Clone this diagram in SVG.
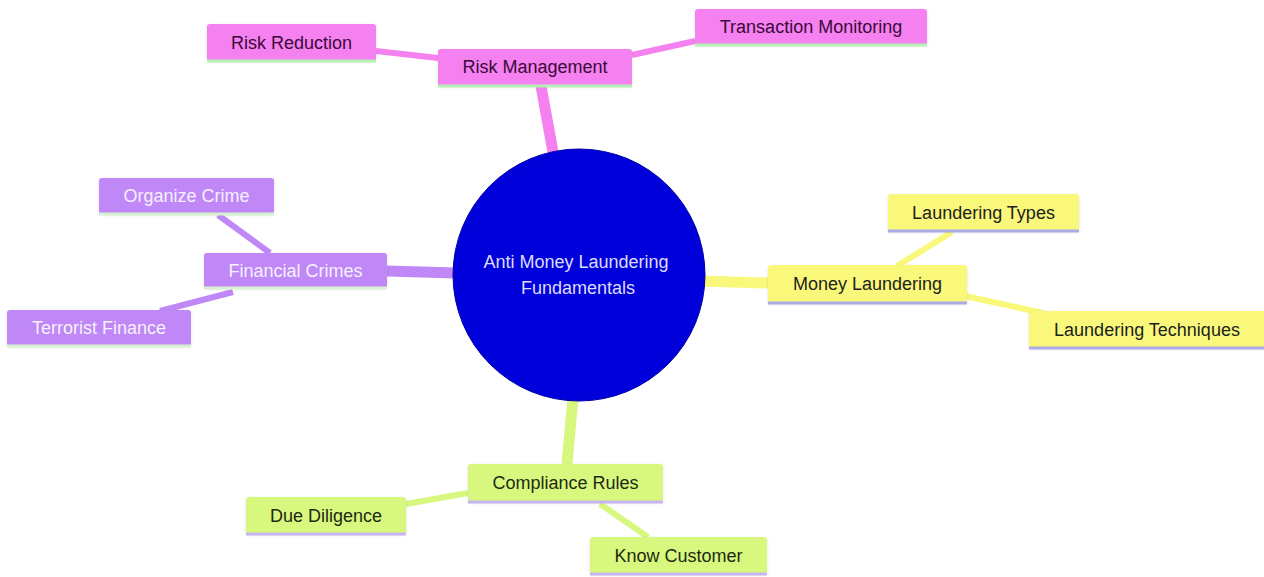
<svg xmlns="http://www.w3.org/2000/svg" width="1264" height="577" viewBox="0 0 1264 577">
<style>
text{font-family:"Liberation Sans",Arial,sans-serif;font-size:18px;text-anchor:middle;dominant-baseline:central}
.pk rect{fill:#f580f0}.pk text{fill:#3a0a3a}.pk line{stroke:#b6efb6}
.pu rect{fill:#bf88f6}.pu text{fill:#f6f0ff}.pu line{stroke:#d8f2cf}
.ye rect{fill:#f9f87a}.ye text{fill:#1e1e1e}.ye line{stroke:#aaaae6}
.gr rect{fill:#d7f77f}.gr text{fill:#1e2a10}.gr line{stroke:#c6b6ef}
.node line{stroke-width:3}
#edges line{stroke-linecap:butt}
.e1{stroke-width:11}.e2{stroke-width:6}
.cpk{stroke:#f580f0}.cpu{stroke:#bf88f6}.cye{stroke:#f9f87a}.cgr{stroke:#d7f77f}
</style>
<defs>
<filter id="sh" x="-10%" y="-20%" width="120%" height="150%">
<feDropShadow dx="0" dy="1" stdDeviation="1.5" flood-color="#000" flood-opacity="0.12"/>
</filter>
</defs>
<rect width="1264" height="577" fill="#ffffff"/>
<g id="edges">
<line class="e1 cpk" x1="553" y1="152" x2="541" y2="86"/>
<line class="e2 cpk" x1="438" y1="58" x2="376" y2="51"/>
<line class="e2 cpk" x1="632" y1="55" x2="695" y2="41"/>
<line class="e1 cpu" x1="456" y1="273" x2="387" y2="271"/>
<line class="e2 cpu" x1="270" y1="253" x2="218" y2="215"/>
<line class="e2 cpu" x1="233" y1="292" x2="160" y2="311"/>
<line class="e1 cye" x1="702" y1="281" x2="768" y2="283"/>
<line class="e2 cye" x1="897" y1="266" x2="952" y2="232"/>
<line class="e2 cye" x1="965" y1="296" x2="1043" y2="313"/>
<line class="e1 cgr" x1="573" y1="398" x2="567" y2="464"/>
<line class="e2 cgr" x1="468" y1="493" x2="406" y2="504"/>
<line class="e2 cgr" x1="600" y1="504" x2="648" y2="537"/>
</g>
<g id="root">
<circle cx="579" cy="275" r="126" fill="#0000da" stroke="#0000a8" stroke-width="1"/>
<text x="576" y="262" fill="#dcdcff">Anti Money Laundering</text>
<text x="578" y="288" fill="#dcdcff">Fundamentals</text>
</g>
<g id="risk-management" class="node pk"><rect x="438" y="49" width="194" height="37" rx="3" filter="url(#sh)"/><line x1="438" y1="86" x2="632" y2="86"/><text x="535" y="67">Risk Management</text></g>
<g id="risk-reduction" class="node pk"><rect x="207" y="24" width="169" height="37" rx="3" filter="url(#sh)"/><line x1="207" y1="61" x2="376" y2="61"/><text x="291.5" y="42.5">Risk Reduction</text></g>
<g id="transaction-monitoring" class="node pk"><rect x="695" y="9" width="232" height="36" rx="3" filter="url(#sh)"/><line x1="695" y1="45" x2="927" y2="45"/><text x="811" y="27">Transaction Monitoring</text></g>
<g id="financial-crimes" class="node pu"><rect x="204" y="253" width="183" height="35" rx="3" filter="url(#sh)"/><line x1="204" y1="288" x2="387" y2="288"/><text x="295.5" y="270.5">Financial Crimes</text></g>
<g id="organize-crime" class="node pu"><rect x="99" y="178" width="175" height="36" rx="3" filter="url(#sh)"/><line x1="99" y1="214" x2="274" y2="214"/><text x="186.5" y="196">Organize Crime</text></g>
<g id="terrorist-finance" class="node pu"><rect x="7" y="310" width="184" height="36" rx="3" filter="url(#sh)"/><line x1="7" y1="346" x2="191" y2="346"/><text x="99" y="328">Terrorist Finance</text></g>
<g id="money-laundering" class="node ye"><rect x="768" y="265" width="199" height="38" rx="3" filter="url(#sh)"/><line x1="768" y1="303" x2="967" y2="303"/><text x="867.5" y="284">Money Laundering</text></g>
<g id="laundering-types" class="node ye"><rect x="888" y="194" width="191" height="37" rx="3" filter="url(#sh)"/><line x1="888" y1="231" x2="1079" y2="231"/><text x="983.5" y="212.5">Laundering Types</text></g>
<g id="laundering-techniques" class="node ye"><rect x="1029" y="311" width="240" height="37" rx="3" filter="url(#sh)"/><line x1="1029" y1="348" x2="1264" y2="348"/><text x="1147" y="329.5">Laundering Techniques</text></g>
<g id="compliance-rules" class="node gr"><rect x="468" y="464" width="195" height="38" rx="3" filter="url(#sh)"/><line x1="468" y1="502" x2="663" y2="502"/><text x="565.5" y="483">Compliance Rules</text></g>
<g id="due-diligence" class="node gr"><rect x="246" y="497" width="160" height="37" rx="3" filter="url(#sh)"/><line x1="246" y1="534" x2="406" y2="534"/><text x="326" y="515.5">Due Diligence</text></g>
<g id="know-customer" class="node gr"><rect x="590" y="537" width="177" height="37" rx="3" filter="url(#sh)"/><line x1="590" y1="574" x2="767" y2="574"/><text x="678.5" y="555.5">Know Customer</text></g>
</svg>
